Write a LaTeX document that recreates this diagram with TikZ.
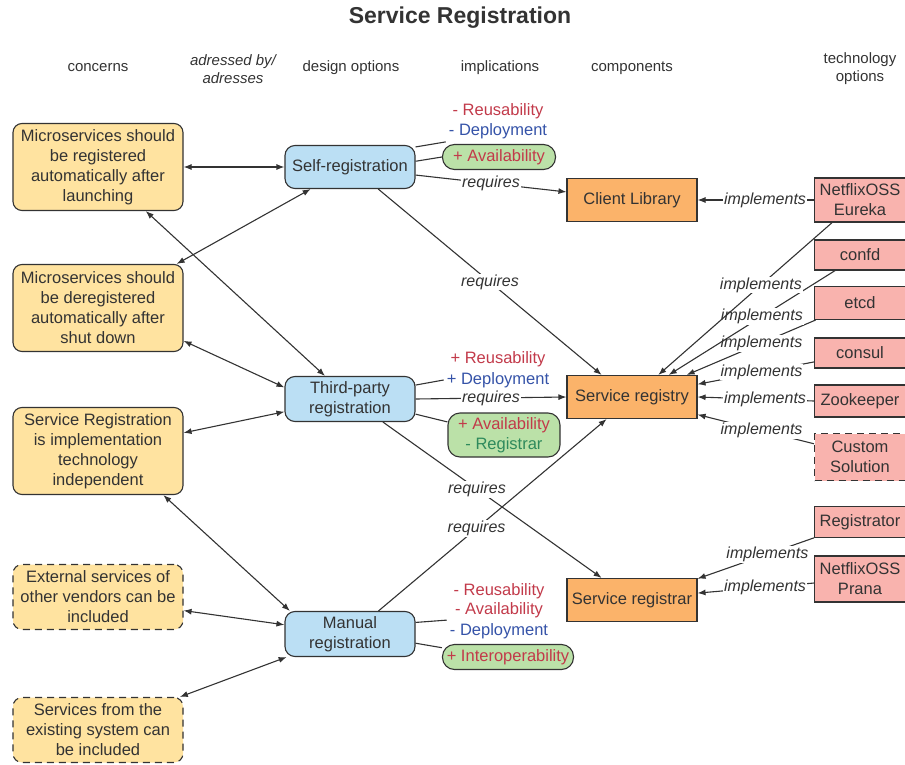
\documentclass[tikz,border=0pt]{standalone}
\usepackage{fontspec}
\setmainfont{Liberation Sans}
\usepackage{xcolor}
\usepackage{tikz}
\usetikzlibrary{arrows.meta}
\definecolor{concernfill}{HTML}{FFE3A0}
\definecolor{optionfill}{HTML}{BBDFF4}
\definecolor{pillfill}{HTML}{BBE1A8}
\definecolor{compfill}{HTML}{FBB36A}
\definecolor{techfill}{HTML}{F9B3AE}
\definecolor{linegray}{HTML}{333333}
\definecolor{minusred}{HTML}{C23A4A}
\definecolor{deplblue}{HTML}{3553A8}
\definecolor{regigreen}{HTML}{2E8A5C}
\colorlet{darktext}{linegray}
\tikzset{every node/.append style={font=\fontsize{16.5}{20}\selectfont,text=darktext}}
\tikzset{
  concern/.style={draw=linegray,fill=concernfill,line width=1.1pt,rounded corners=9pt,
    minimum width=170pt,minimum height=87pt,align=center,inner sep=2pt},
  option/.style={draw=linegray,fill=optionfill,line width=1.1pt,rounded corners=10pt,
    minimum width=130pt,minimum height=45pt,align=center,inner sep=2pt},
  pill/.style={draw=linegray,fill=pillfill,line width=1.1pt,rounded corners=12pt,
    minimum width=113pt,minimum height=25pt,align=center,inner sep=2pt,text=minusred},
  impl/.style={inner sep=3pt},
  comp/.style={draw=linegray,fill=compfill,line width=1.1pt,
    minimum width=130pt,minimum height=43pt,inner sep=2pt},
  tech/.style={draw=linegray,fill=techfill,line width=1.1pt,
    minimum width=91pt,minimum height=30pt,align=center,inner sep=2pt},
  dashbox/.style={dash pattern=on 7pt off 5pt},
  hdr/.style={font=\fontsize{15}{18}\selectfont,align=center},
  lbl/.style={fill=white,inner sep=1pt,font=\fontsize{16}{20}\selectfont\itshape},
  link/.style={linegray,line width=1.1pt}
}
\begin{document}
\begin{tikzpicture}[x=1pt,y=-1pt,>={Latex[length=8pt,width=6pt]}]
  \useasboundingbox (0,0) rectangle (905,765);
  \node[font=\fontsize{23}{28}\selectfont\bfseries] (title) at (460,18) {Service Registration};
  \node[hdr] (hconc) at (98,68) {concerns};
  \node[hdr,font=\fontsize{15}{18}\selectfont\itshape] (hadr) at (233,69) {adressed by/\\adresses};
  \node[hdr] (hdes) at (351,68) {design options};
  \node[hdr] (himpl) at (500,68) {implications};
  \node[hdr] (hcomp) at (632,68) {components};
  \node[hdr] (htech) at (860,69) {technology\\options};

  \node[concern] (c1) at (98,167) {Microservices should\\be registered\\automatically after\\launching};
  \node[concern] (c2) at (98,308) {Microservices should\\be deregistered\\automatically after\\shut down};
  \node[concern] (c3) at (98,451) {Service Registration\\is implementation\\technology\\independent};
  \node[concern,dashbox,minimum height=65pt] (c4) at (98,597) {External services of\\other vendors can be\\included};
  \node[concern,dashbox,minimum height=65pt] (c5) at (98,730) {Services from the\\existing system can\\be included};

  \node[option,minimum height=43pt] (self) at (350,167) {Self-registration};
  \node[option] (tp) at (350,399) {Third-party\\registration};
  \node[option] (man) at (350,634) {Manual\\registration};

  \node[impl,text=minusred] (sreu) at (498,111) {- Reusability};
  \node[impl,text=deplblue] (sdep) at (498,131) {- Deployment};
  \node[pill] (savail) at (499,157) {+ Availability};
  \node[impl,text=minusred] (treu) at (498,359) {+ Reusability};
  \node[impl,text=deplblue] (tdep) at (498,380) {+ Deployment};
  \node[pill,minimum width=112pt,minimum height=44pt] (tavail) at (504,435) {+ Availability\\\textcolor{regigreen}{- Registrar}};
  \node[impl,text=minusred] (mreu) at (499,591) {- Reusability};
  \node[impl,text=minusred] (mava) at (499,610) {- Availability};
  \node[impl,text=deplblue] (mdep) at (499,631) {- Deployment};
  \node[pill,minimum width=131pt] (mint) at (508,657) {+ Interoperability};

  \node[comp] (client) at (632,200) {Client Library};
  \node[comp] (reg) at (632,397) {Service registry};
  \node[comp] (regr) at (632,600) {Service registrar};

  \node[tech,minimum height=44pt] (eur) at (860,200) {NetflixOSS\\Eureka};
  \node[tech] (confd) at (860,255) {confd};
  \node[tech,minimum height=33pt] (etcd) at (860,303) {etcd};
  \node[tech] (consul) at (860,353) {consul};
  \node[tech,minimum height=32pt] (zoo) at (860,401) {Zookeeper};
  \node[tech,dashbox,minimum height=47pt] (custom) at (860,457) {Custom\\Solution};
  \node[tech,minimum height=31pt] (rtor) at (860,522) {Registrator};
  \node[tech,minimum height=46pt] (prana) at (860,579) {NetflixOSS\\Prana};

  \draw[link,<->] (c1.east) -- (self.west);
  \draw[link,<->] (c1) -- (tp);
  \draw[link,<->] (c2) -- (self);
  \draw[link,<->] (c2.-21) -- (tp.170);
  \draw[link,<->] (c3.12) -- (tp.-169);
  \draw[link,<->] (c3.-34) -- (man.159);
  \draw[link,<->] (c4.-9) -- (man.172);
  \draw[link,<->] (c5.22) -- (man.-160);

  \draw[link] (self.17) -- (sdep.south west);
  \draw[link] (self.5) -- (savail.west);
  \draw[link] (tp.12) -- (tdep.west);
  \draw[link] (tp.-13) -- (tavail.167);
  \draw[link] (man.10) -- (mdep.north west);
  \draw[link] (man.-8) -- (mint.172);

  \draw[link,->] (self.-7) -- node[lbl,pos=.5] {requires} (client.173);
  \draw[link,->] (self.-38) -- node[lbl,pos=.5] {requires} (reg.144);
  \draw[link,->] (tp.east) -- node[lbl,pos=.5] {requires} (reg.west);
  \draw[link,->] (tp.-35) -- node[lbl,pos=.43] {requires} (regr.144);
  \draw[link,->] (man.39) -- node[lbl,pos=.43] {requires} (reg.-139);

  \draw[link,->] (prana.-175) -- node[lbl,pos=.42] {implements} (regr.6);
  \draw[link,->] (rtor.-161) -- node[lbl,pos=.4] {implements} (regr.18);
  \draw[link,->] (custom.164) -- node[lbl,pos=.45] {implements} (reg.-15);
  \draw[link,->] (zoo.west) -- node[lbl,pos=.42] {implements} (reg.east);
  \draw[link,->] (consul.-169) -- node[lbl,pos=.45] {implements} (reg.11);
  \draw[link,->] (etcd.-159) -- node[lbl,pos=.42] {implements} (reg.22);
  \draw[link,->] (confd.-148) -- node[lbl,pos=.44] {implements} (reg.31);
  \draw[link,->] (eur.-141) -- node[lbl,pos=.41] {implements} (reg.40);
  \draw[link,->] (eur.west) -- node[lbl,pos=.42] {implements} (client.east);
\end{tikzpicture}
\end{document}
